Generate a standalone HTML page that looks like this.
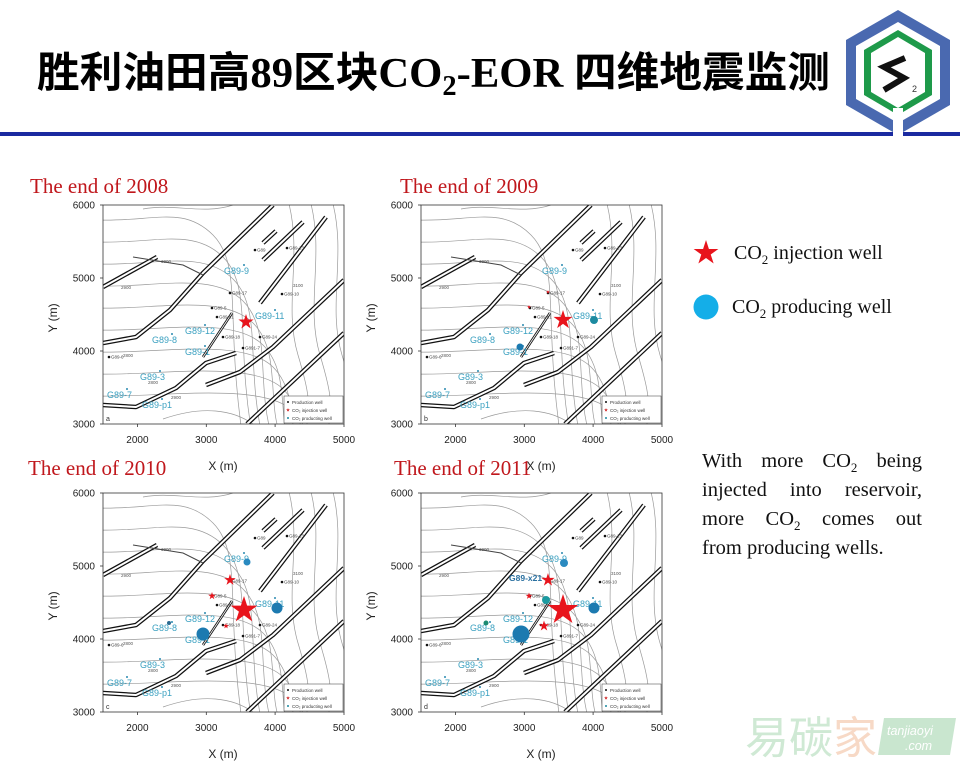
<!DOCTYPE html>
<html><head><meta charset="utf-8">
<style>
html,body{margin:0;padding:0;background:#fff;}
body{width:960px;height:768px;position:relative;overflow:hidden;font-family:"Liberation Serif",serif;}
svg{position:absolute;left:0;top:0;}
.para{position:absolute;left:702px;top:447px;width:220px;font-size:20.5px;line-height:29px;color:#111;font-family:"Liberation Serif",serif;}
.para div{text-align:justify;text-align-last:justify;white-space:nowrap;}
.para div.l{text-align-last:left;}
.para sub{font-size:13px;line-height:0}
</style></head>
<body>
<svg id="main" width="960" height="768" viewBox="0 0 960 768" xmlns="http://www.w3.org/2000/svg">
<defs>
<clipPath id="clipbox"><rect x="0" y="0" width="241" height="219"/></clipPath>
<polygon id="st" points="0,-1 0.224,-0.309 0.951,-0.309 0.363,0.118 0.588,0.809 0,0.382 -0.588,0.809 -0.363,0.118 -0.951,-0.309 -0.224,-0.309"/>
<g id="base"></g>
</defs>
<text x="37" y="87" font-family="'Liberation Serif','Noto Sans CJK SC',serif" font-weight="bold" font-size="42" textLength="793" lengthAdjust="spacingAndGlyphs">胜利油田高89区块CO<tspan font-size="28" dy="8">2</tspan><tspan dy="-8">-EOR 四维地震监测</tspan></text>
<rect x="0" y="132" width="960" height="4" fill="#1a2aa0"/>
<polygon points="898,10 950,40 950,105 898,135 846,105 846,40" fill="#4a69b0"/>
<polygon points="898,22 940,46 940,99 898,123 856,99 856,46" fill="#fff"/>
<polygon points="898,30 932,50 932,95 898,115 864,95 864,50" fill="#1e9a4a"/>
<polygon points="898,37 925,53 925,92 898,108 871,92 871,53" fill="#fff"/>
<rect x="893" y="108" width="10" height="28" fill="#fff"/>
<path d="M905,58 L884,67 L904,78 L884,90" fill="none" stroke="#111" stroke-width="6" stroke-linejoin="miter"/>
<text x="912" y="92" font-family="'Liberation Sans',sans-serif" font-size="9" fill="#333">2</text>
<use href="#st" transform="translate(706,253) scale(13)" fill="#e8141c"/>
<text x="734" y="259" font-size="20" fill="#111">CO<tspan font-size="13" dy="5">2</tspan><tspan dy="-5"> injection well</tspan></text>
<circle cx="706" cy="307" r="12.5" fill="#14aee8"/>
<text x="732" y="313" font-size="20" fill="#111">CO<tspan font-size="13" dy="5">2</tspan><tspan dy="-5"> producing well</tspan></text>
<text x="745" y="753" font-family="'Noto Sans CJK SC',sans-serif" font-size="44" fill="#cfe9d4">易碳<tspan fill="#f7d9c6">家</tspan></text>
<polygon points="884,718 956,718 950,755 878,755" fill="#c9e6cf"/>
<text x="887" y="735" font-family="'Liberation Sans',sans-serif" font-size="12.5" fill="#fff" font-style="italic">tanjiaoyi</text>
<text x="905" y="750" font-family="'Liberation Sans',sans-serif" font-size="12.5" fill="#fff" font-style="italic">.com</text>
<g id="panels"></g>
</svg>
<div class="para"><div>With more CO<sub>2</sub> being</div><div>injected into reservoir,</div><div>more CO<sub>2</sub> comes out</div><div class="l">from producing wells.</div></div>
<script>
var NS="http://www.w3.org/2000/svg";
function el(tag,attrs,parent,txt){var e=document.createElementNS(NS,tag);for(var k in attrs)e.setAttribute(k,attrs[k]);if(txt!==undefined)e.textContent=txt;if(parent)parent.appendChild(e);return e;}
var base=document.getElementById('base');
var cg=el('g',{'clip-path':'url(#clipbox)',fill:'none',stroke:'#9a9a9a','stroke-width':'0.7'},base);
for(var i=0;i<9;i++){
  var y0=15+i*22, xb=110+i*10;
  el('path',{d:'M-5,'+y0+' C50,'+(y0+2)+' '+(xb-30)+','+(y0-15)+' '+xb+','+(y0+15)+' S'+(xb+12)+','+(y0+100)+' '+(xb+30)+',235'},cg);
}
for(var j=0;j<3;j++){
  var x0=185+j*22;
  el('path',{d:'M'+x0+',-5 C'+(x0+15)+',50 '+(x0-5)+',100 '+(x0+10)+',150 S'+(x0+20)+',200 '+(x0+18)+',230'},cg);
}
el('path',{d:'M40,4 C70,-2 100,10 130,0'},cg);
el('path',{d:'M60,214 C100,200 130,205 150,219'},cg);
var faults=['M0,138 L33,132 L67,105 L100,68 L170,0','M0,82 L54,52','M0,200 L33,202 L73,183 L103,158 L133,148','M103,180 L137,167 L170,142 L241,75','M144,219 L241,128','M157,98 L223,12','M160,55 L200,17','M160,38 L173,26','M100,152 L129,108'];
var fg=el('g',{'clip-path':'url(#clipbox)',fill:'none'},base);
faults.forEach(function(d,idx){
  el('path',{d:d,stroke:'#111','stroke-width':idx==8?'2.5':'4.5','stroke-linejoin':'round'},fg);
  el('path',{d:d,stroke:'#fff','stroke-width':idx==8?'0.8':'2','stroke-linejoin':'round'},fg);
});
el('path',{d:'M30,52 L80,60 L100,70',stroke:'#444','stroke-width':'1',fill:'none'},base);
[['2900',18,84],['3000',58,58],['2800',20,152],['2800',45,179],['2900',68,194],['3100',190,82]].forEach(function(t){el('text',{x:t[1],y:t[2],'font-size':'4.5','font-family':'Liberation Sans,sans-serif',fill:'#555'},base,t[0]);});

var panels=[
 {ox:103,oy:205,title:'The end of 2008',tx:30,ty:193,letter:'a',stars:[[143,117,8]],circ:[]},
 {ox:421,oy:205,title:'The end of 2009',tx:400,ty:193,letter:'b',stars:[[142,115,10],[127,87,2],[108,102,2]],circ:[[173,115,4,'#1c8aa0'],[99,142,3.5,'#1c7ab0']]},
 {ox:103,oy:493,title:'The end of 2010',tx:28,ty:475,letter:'c',stars:[[141,117,14],[127,87,6],[109,103,4],[123,133,3]],circ:[[144,69,3.5,'#2a8ac0'],[174,115,5.5,'#1c7ab0'],[66,130,2,'#2a6a90'],[100,141,6.5,'#1c7ab0']]},
 {ox:421,oy:493,title:'The end of 2011',tx:394,ty:475,letter:'d',stars:[[142,117,16],[127,87,7],[108,103,3.5],[123,133,5.5]],circ:[[143,70,4,'#2a8ac0'],[125,107,4,'#1c9aa0'],[173,115,5.5,'#1c7ab0'],[65,130,2.5,'#1c8a70'],[100,141,8.5,'#1c7ab0']]}
];
var wells=[['G89',152,45],['G89-13',184,43],['G89-17',127,88],['G89-10',179,89],['G89-5',109,103],['G89-s1',114,112],['G89-18',120,132],['G89-24',157,132],['G89-6',6,152],['G891-7',140,143]];
var big=[['G89-9',139,66],['G89-11',170,111],['G89-12',100,126],['G89-8',67,135],['G89-1',100,147],['G89-3',55,172],['G89-7',22,190],['G89-p1',57,200]];
var P=document.getElementById('panels');
panels.forEach(function(p){
  el('text',{x:p.tx,y:p.ty,'font-size':'21',fill:'#c0171c','font-family':'Liberation Serif,serif'},P,p.title);
  var g=el('g',{transform:'translate('+p.ox+','+p.oy+')','font-family':'Liberation Sans,sans-serif'},P);
  el('use',{href:'#base'},g);
  el('rect',{x:0,y:0,width:241,height:219,fill:'none',stroke:'#333','stroke-width':'0.8'},g);
  [0,73,146,219].forEach(function(y,i){el('line',{x1:-3,y1:y,x2:0,y2:y,stroke:'#333','stroke-width':'0.8'},g);el('text',{x:-8,y:y+3.5,'font-size':'10','text-anchor':'end',fill:'#222'},g,String(6000-i*1000));});
  [34.4,103.3,172.1,241].forEach(function(x,i){el('line',{x1:x,y1:219,x2:x,y2:222,stroke:'#333','stroke-width':'0.8'},g);el('text',{x:x,y:238,'font-size':'10','text-anchor':'middle',fill:'#222'},g,String(2000+i*1000));});
  el('text',{x:120,y:265,'font-size':'12','text-anchor':'middle',fill:'#222'},g,'X (m)');
  el('text',{x:-50,y:113,'font-size':'12','text-anchor':'middle',fill:'#222',transform:'rotate(-90 -50 113) translate(0,4)'},g,'Y (m)');
  el('text',{x:3,y:216,'font-size':'7',fill:'#333'},g,p.letter);
  wells.forEach(function(w){el('circle',{cx:w[1],cy:w[2],r:1.3,fill:'#111'},g);el('text',{x:w[1]+2,y:w[2]+1.5,'font-size':'4.5',fill:'#444'},g,w[0]);});
  big.forEach(function(w){el('circle',{cx:w[1]+2,cy:w[2]-6,r:1,fill:'#2a8ab0'},g);el('text',{x:w[1]-18,y:w[2]+3,'font-size':'9',fill:'#3aa0c0'},g,w[0]);});
  if(p.letter=='d'){el('text',{x:88,y:88,'font-size':'8.5','font-weight':'bold',fill:'#2a70a0'},g,'G89-x21');}
  el('rect',{x:181,y:191,width:59,height:27,fill:'#fff',stroke:'#333','stroke-width':'0.5'},g);
  el('circle',{cx:185,cy:197,r:1,fill:'#111'},g);el('text',{x:189,y:199,'font-size':'4.5',fill:'#333'},g,'Production well');
  el('use',{href:'#st',transform:'translate(185,205) scale(2)',fill:'#d02020'},g);el('text',{x:189,y:207,'font-size':'4.5',fill:'#333'},g,'CO₂ injection well');
  el('circle',{cx:185,cy:213,r:1,fill:'#1c8aa0'},g);el('text',{x:189,y:215,'font-size':'4.5',fill:'#333'},g,'CO₂ producting well');
  p.circ.forEach(function(c){el('circle',{cx:c[0],cy:c[1],r:c[2],fill:c[3]},g);});
  p.stars.forEach(function(s){el('use',{href:'#st',transform:'translate('+s[0]+','+s[1]+') scale('+s[2]+')',fill:'#e8141c'},g);});
});
</script>
</body></html>
